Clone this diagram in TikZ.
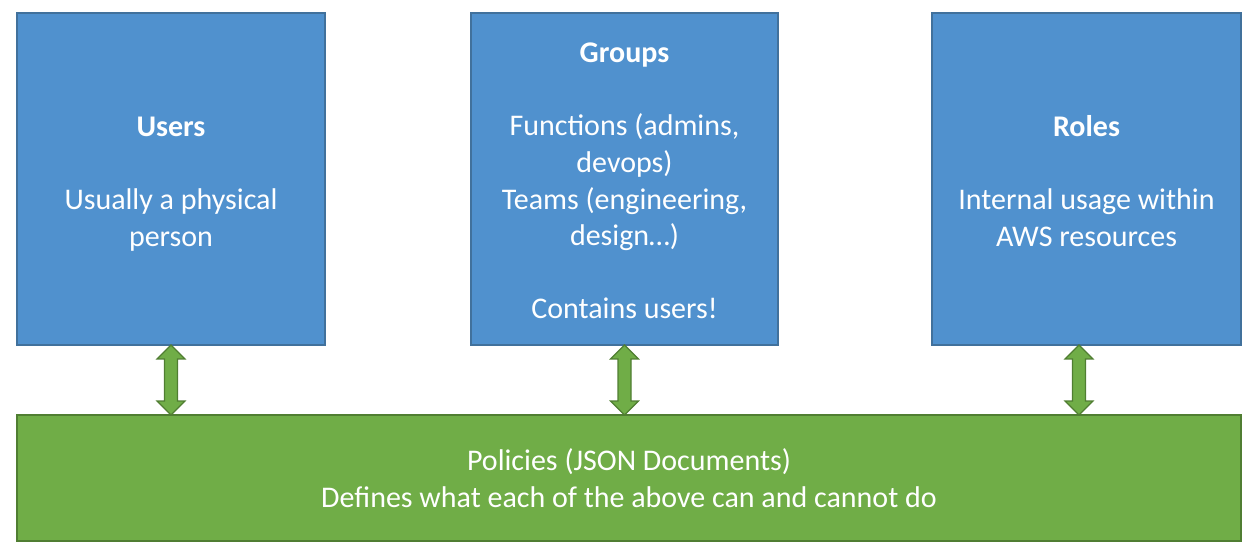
\documentclass[tikz,border=0pt]{standalone}
\usepackage{fontspec}
\setmainfont{Carlito}
\usetikzlibrary{calc}
\definecolor{boxblue}{RGB}{80,145,206}
\definecolor{boxblueline}{RGB}{65,113,156}
\definecolor{polgreen}{RGB}{112,173,71}
\definecolor{polgreenline}{RGB}{80,126,50}
\tikzset{
  bluebox/.style={draw=boxblueline, fill=boxblue, line width=1.6pt},
  greenbox/.style={draw=polgreenline, fill=polgreen, line width=1.6pt},
  boxtext/.style={text=white, align=center, font=\fontsize{30}{36.6}\selectfont, inner sep=0pt},
  dblarrow/.style={draw=polgreenline, fill=polgreen, line width=1.2pt, line join=miter},
}
\begin{document}
\begin{tikzpicture}[x=1pt,y=-1pt]
\useasboundingbox (0,0) rectangle (1256,553);
% boxes
\draw[bluebox] (17,13) rectangle (325,345);
\draw[bluebox] (471,13) rectangle (778,345);
\draw[bluebox] (932,13) rectangle (1241,345);
\draw[greenbox] (17,415) rectangle (1241,541);
% anchor coordinates
\coordinate (users) at (171,345);
\coordinate (groups) at (624.5,345);
\coordinate (roles) at (1079,345);
\coordinate (policies) at (629,415);
% texts
\node[boxtext] (userstxt) at (171,184) {\textbf{Users}\\[36.6pt]Usually a physical\\person};
\node[boxtext] (groupstxt) at (624.5,181) {\textbf{Groups}\\[36.6pt]Functions (admins,\\devops)\\Teams (engineering,\\design…)\\[36.6pt]Contains users!};
\node[boxtext] (rolestxt) at (1086.5,181) {\textbf{Roles}\\[36.6pt]Internal usage within\\AWS resources};
\node[boxtext] (policytxt) at (629,478) {Policies (JSON Documents)\\Defines what each of the above can and cannot do};
% double arrows
\foreach \b in {users,groups,roles}{
  \coordinate (bot) at (\b |- policies);
  \draw[dblarrow] (\b) -- ++(14,14) -- ++(-7.5,0)
    -- ($(bot)+(6.5,-14)$) -- ($(bot)+(14,-14)$) -- (bot)
    -- ($(bot)+(-14,-14)$) -- ($(bot)+(-6.5,-14)$)
    -- ($(\b)+(-6.5,14)$) -- ($(\b)+(-14,14)$) -- cycle;
}
\end{tikzpicture}
\end{document}
